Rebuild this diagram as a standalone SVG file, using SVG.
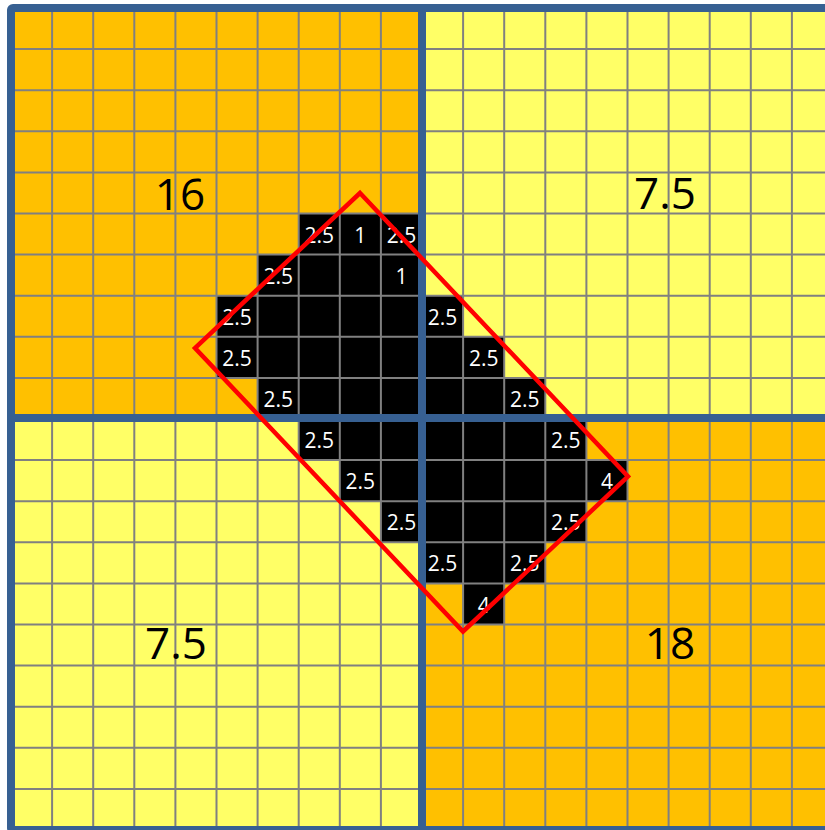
<svg xmlns="http://www.w3.org/2000/svg" width="825" height="830" viewBox="0 0 825 830">
<style>
.org{fill:#FFC000}
.yel{fill:#FFFF66}
.blk{fill:#000000}
.grid{fill:none;stroke:#808080;stroke-width:2}
.thick{fill:none;stroke:#376092;stroke-width:8}
.small{font-family:"Open Sans","Liberation Sans",sans-serif;font-size:21px;fill:#FFFFFF;text-anchor:middle}
.big{font-family:"Open Sans","Liberation Sans",sans-serif;font-size:44px;fill:#000000;text-anchor:middle}
.red{fill:none;stroke:#FF0000;stroke-width:4.5;stroke-linejoin:miter}
</style>
<rect x="0" y="0" width="825" height="830" fill="#FFFFFF"/>
<g id="quadrants">
<rect class="org" x="11" y="8" width="411" height="411"/>
<rect class="yel" x="422" y="8" width="411" height="411"/>
<rect class="yel" x="11" y="419" width="411" height="411"/>
<rect class="org" x="422" y="419" width="411" height="411"/>
</g>
<g id="black-cells">
<rect class="blk" x="298.7" y="213.5" width="123.3" height="41.1"/>
<rect class="blk" x="257.6" y="254.6" width="164.4" height="41.1"/>
<rect class="blk" x="216.5" y="295.7" width="246.6" height="41.1"/>
<rect class="blk" x="216.5" y="336.8" width="287.7" height="41.1"/>
<rect class="blk" x="257.6" y="377.9" width="287.7" height="41.1"/>
<rect class="blk" x="298.7" y="419" width="287.7" height="41.1"/>
<rect class="blk" x="339.8" y="460.1" width="287.7" height="41.1"/>
<rect class="blk" x="380.9" y="501.2" width="205.5" height="41.1"/>
<rect class="blk" x="422" y="542.3" width="123.3" height="41.1"/>
<rect class="blk" x="463.1" y="583.4" width="41.1" height="41.1"/>
</g>
<g id="grid-lines">
<path class="grid" d="M52.1 8V830M93.2 8V830M134.3 8V830M175.4 8V830M216.5 8V830M257.6 8V830M298.7 8V830M339.8 8V830M380.9 8V830M463.1 8V830M504.2 8V830M545.3 8V830M586.4 8V830M627.5 8V830M668.6 8V830M709.7 8V830M750.8 8V830M791.9 8V830
M11 49.1H833M11 90.2H833M11 131.3H833M11 172.4H833M11 213.5H833M11 254.6H833M11 295.7H833M11 336.8H833M11 377.9H833M11 460.1H833M11 501.2H833M11 542.3H833M11 583.4H833M11 624.5H833M11 665.6H833M11 706.7H833M11 747.8H833M11 788.9H833"/>
</g>
<g id="blue-lines">
<path class="thick" d="M422 8V830M11 418H833"/>
<rect class="thick" x="11" y="8" width="822" height="822" rx="2"/>
</g>
<g id="cell-labels">
<text class="small" x="319.25" y="242.6">2.5</text>
<text class="small" x="360.35" y="242.6">1</text>
<text class="small" x="401.45" y="242.6">2.5</text>
<text class="small" x="278.15" y="283.7">2.5</text>
<text class="small" x="401.45" y="283.7">1</text>
<text class="small" x="237.05" y="324.8">2.5</text>
<text class="small" x="442.55" y="324.8">2.5</text>
<text class="small" x="237.05" y="365.9">2.5</text>
<text class="small" x="483.65" y="365.9">2.5</text>
<text class="small" x="278.15" y="407">2.5</text>
<text class="small" x="524.75" y="407">2.5</text>
<text class="small" x="319.25" y="448.1">2.5</text>
<text class="small" x="565.85" y="448.1">2.5</text>
<text class="small" x="360.35" y="489.2">2.5</text>
<text class="small" x="606.95" y="489.2">4</text>
<text class="small" x="401.45" y="530.3">2.5</text>
<text class="small" x="565.85" y="530.3">2.5</text>
<text class="small" x="442.55" y="571.4">2.5</text>
<text class="small" x="524.75" y="571.4">2.5</text>
<text class="small" x="483.65" y="612.5">4</text>
</g>
<g id="quadrant-labels">
<text class="big" x="180" y="210">16</text>
<text class="big" x="665" y="209">7.5</text>
<text class="big" x="176" y="659">7.5</text>
<text class="big" x="670" y="659">18</text>
</g>
<g id="red-rectangle">
<polygon class="red" points="360,193 628,476.5 463,631.5 195,348"/>
</g>
</svg>
